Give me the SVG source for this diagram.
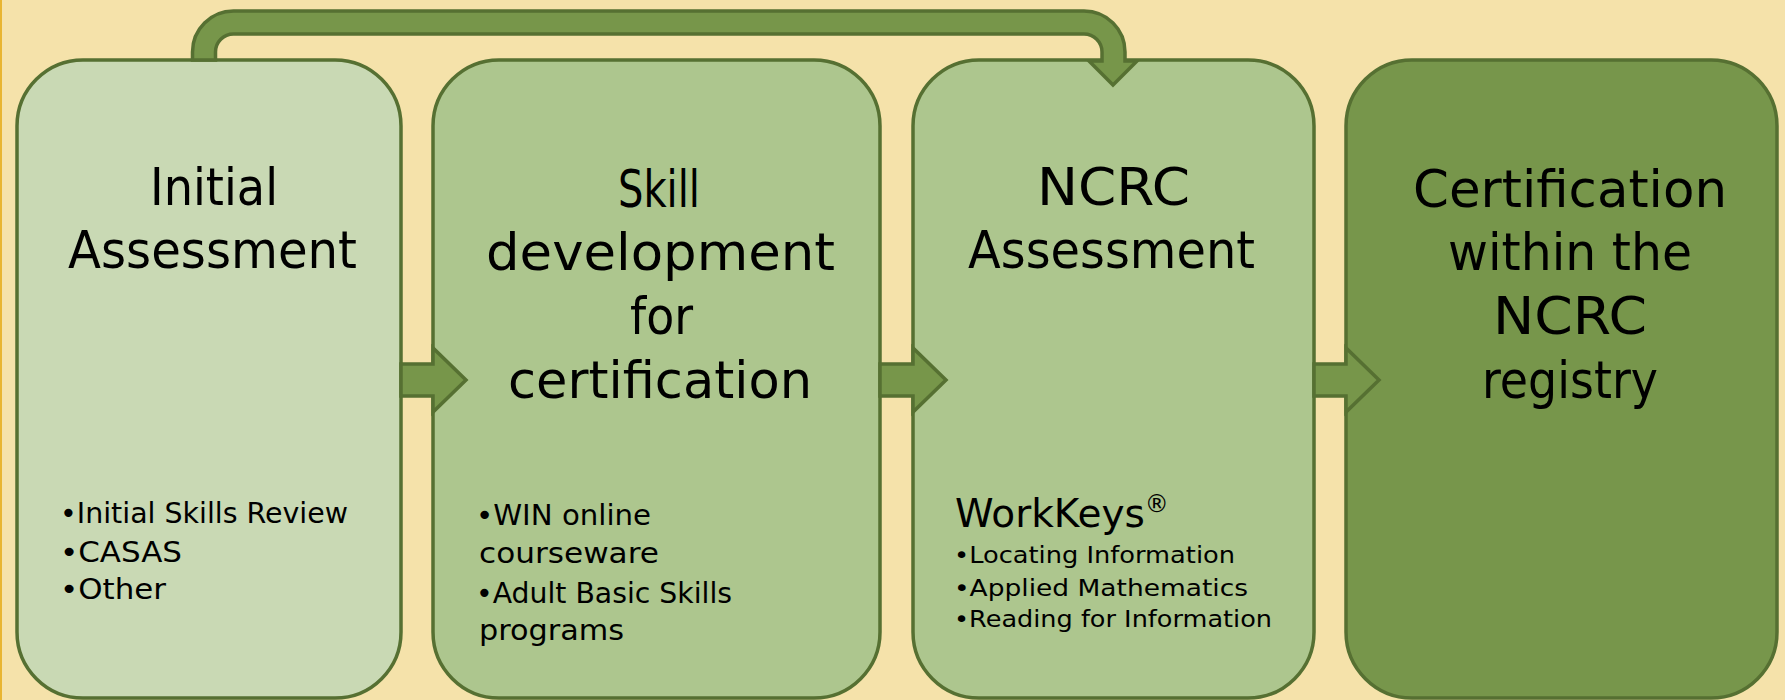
<svg xmlns="http://www.w3.org/2000/svg" width="1785" height="700" viewBox="0 0 1785 700">
<style>
.box{stroke:#567032;stroke-width:3.5}
.b1{fill:#C9D9B4}
.b2{fill:#ADC68E}
.b4{fill:#77964B}
.arr{fill:#77964A;stroke:#567032;stroke-width:3.5;stroke-linejoin:miter}
.t{font-family:"DejaVu Sans",sans-serif;fill:#000}
.title{font-size:52px;text-anchor:middle}
.bul{font-size:28px}
.bul3{font-size:23px}
</style>
<rect x="0" y="0" width="1785" height="700" fill="#F5E2AA"/>
<rect x="0" y="0" width="2" height="700" fill="#E8B532"/>

<g id="node-initial-assessment">
<rect class="box b1" x="17" y="60" width="384" height="638" rx="66" ry="66"/>
<text class="t title" x="214" y="205" textLength="128" lengthAdjust="spacingAndGlyphs">Initial</text>
<text class="t title" x="212.5" y="268" textLength="289" lengthAdjust="spacingAndGlyphs">Assessment</text>
<text class="t bul" x="60" y="523" textLength="288" lengthAdjust="spacingAndGlyphs">•Initial Skills Review</text>
<text class="t bul" x="60" y="562" textLength="122" lengthAdjust="spacingAndGlyphs">•CASAS</text>
<text class="t bul" x="60" y="599" textLength="106" lengthAdjust="spacingAndGlyphs">•Other</text>
</g>

<g id="node-skill-development">
<rect class="box b2" x="433" y="60" width="447" height="638" rx="66" ry="66"/>
<text class="t title" x="659" y="207" textLength="82" lengthAdjust="spacingAndGlyphs">Skill</text>
<text class="t title" x="660.5" y="270" textLength="349" lengthAdjust="spacingAndGlyphs">development</text>
<text class="t title" x="661.5" y="334" textLength="63" lengthAdjust="spacingAndGlyphs">for</text>
<text class="t title" x="660" y="398" textLength="304" lengthAdjust="spacingAndGlyphs">certification</text>
<text class="t bul" x="476" y="525" textLength="175" lengthAdjust="spacingAndGlyphs">•WIN online</text>
<text class="t bul" x="479" y="563" textLength="180" lengthAdjust="spacingAndGlyphs">courseware</text>
<text class="t bul" x="476" y="603" textLength="256" lengthAdjust="spacingAndGlyphs">•Adult Basic Skills</text>
<text class="t bul" x="479" y="640" textLength="145" lengthAdjust="spacingAndGlyphs">programs</text>
</g>

<g id="node-ncrc-assessment">
<rect class="box b2" x="913" y="60" width="401" height="638" rx="66" ry="66"/>
<text class="t title" x="1113.5" y="205" textLength="153" lengthAdjust="spacingAndGlyphs">NCRC</text>
<text class="t title" x="1111.5" y="268" textLength="287" lengthAdjust="spacingAndGlyphs">Assessment</text>
<text class="t" x="955" y="527" font-size="39">WorkKeys<tspan font-size="24" dy="-15">®</tspan></text>
<text class="t bul3" x="954" y="563" textLength="281" lengthAdjust="spacingAndGlyphs">•Locating Information</text>
<text class="t bul3" x="954" y="596" textLength="294" lengthAdjust="spacingAndGlyphs">•Applied Mathematics</text>
<text class="t bul3" x="954" y="627" textLength="318" lengthAdjust="spacingAndGlyphs">•Reading for Information</text>
</g>

<g id="node-certification-registry">
<rect class="box b4" x="1346" y="60" width="431" height="638" rx="66" ry="66"/>
<text class="t title" x="1570" y="207" textLength="314" lengthAdjust="spacingAndGlyphs">Certification</text>
<text class="t title" x="1570" y="270" textLength="244" lengthAdjust="spacingAndGlyphs">within the</text>
<text class="t title" x="1570" y="334" textLength="154" lengthAdjust="spacingAndGlyphs">NCRC</text>
<text class="t title" x="1570" y="398" textLength="176" lengthAdjust="spacingAndGlyphs">registry</text>
</g>

<g id="connectors">
<path class="arr" d="M401 364 L433 364 L433 348 L466 380 L433 412 L433 396 L401 396 Z"/>
<path class="arr" d="M880 364 L913 364 L913 348 L946 380 L913 412 L913 396 L880 396 Z"/>
<path class="arr" d="M1314 364 L1346 364 L1346 348 L1379 380 L1346 412 L1346 396 L1314 396 Z"/>
<path class="arr" d="M192.5 60 L192.5 52 A41 41 0 0 1 233.5 11 L1084 11 A41 41 0 0 1 1125 52 L1125 61 L1137 61 L1113 85 L1089 61 L1102 61 L1102 52 A18 18 0 0 0 1084 34 L233.5 34 A18 18 0 0 0 215.5 52 L215.5 60 Z"/>
</g>
</svg>
